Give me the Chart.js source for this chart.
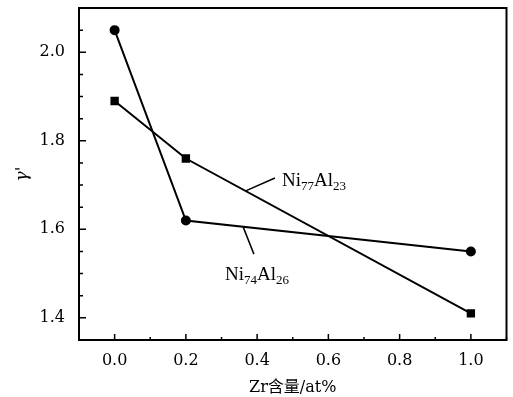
<!DOCTYPE html>
<html>
<head>
<meta charset="utf-8">
<script src="https://cdn.jsdelivr.net/npm/chart.js@4.4.1/dist/chart.umd.min.js"></script>
<style>
  html, body { margin: 0; padding: 0; background: #fff; }
  #wrap { width: 513px; height: 397px; }
</style>
</head>
<body>
<div id="wrap"><canvas id="myChart" width="513" height="397"></canvas></div>
<script>
// data
const zr = [0.0, 0.2, 1.0];
const ni74al26 = [2.05, 1.62, 1.55];   // circles
const ni77al23 = [1.89, 1.76, 1.41];   // squares
const xTicks = [0.0, 0.2, 0.4, 0.6, 0.8, 1.0];
const yTicks = [1.4, 1.6, 1.8, 2.0];
const xMinor = [-0.1, 0.1, 0.3, 0.5, 0.7, 0.9, 1.1];
const yMinor = [1.35, 1.45, 1.5, 1.55, 1.65, 1.7, 1.75, 1.85, 1.9, 1.95, 2.05, 2.1];

// label callouts, in data units
const callouts = [
  { a: "Ni", s1: "77", b: "Al", s2: "23", at: [0.47, 1.697], from: [0.368, 1.687], to: [0.45, 1.716] },
  { a: "Ni", s1: "74", b: "Al", s2: "26", at: [0.31, 1.486], from: [0.361, 1.605], to: [0.391, 1.544] }
];

const toPts = (ys) => zr.map((x, i) => ({ x: x, y: ys[i] }));

// frame, inward ticks and the callout labels
const framePlugin = {
  id: "frame",
  afterDraw(chart) {
    const c = chart.ctx;
    const a = chart.chartArea;
    const xs = chart.scales.x, ys = chart.scales.y;
    c.save();
    c.strokeStyle = "#000";
    c.lineWidth = 2;
    c.strokeRect(a.left, a.top, a.right - a.left, a.bottom - a.top);
    c.lineWidth = 1.5;
    c.beginPath();
    for (let v of yTicks) {
      let p = ys.getPixelForValue(v);
      c.moveTo(a.left, p); c.lineTo(a.left + 7, p);
    }
    for (let v of yMinor) {
      let p = ys.getPixelForValue(v);
      c.moveTo(a.left, p); c.lineTo(a.left + 4, p);
    }
    for (let v of xTicks) {
      let p = xs.getPixelForValue(v);
      c.moveTo(p, a.bottom); c.lineTo(p, a.bottom - 6);
    }
    for (let v of xMinor) {
      let p = xs.getPixelForValue(v);
      c.moveTo(p, a.bottom); c.lineTo(p, a.bottom - 3);
    }
    c.stroke();

    c.lineWidth = 1.5;
    c.fillStyle = "#000";
    c.textBaseline = "alphabetic";
    c.textAlign = "left";
    for (let t of callouts) {
      c.beginPath();
      c.moveTo(xs.getPixelForValue(t.from[0]), ys.getPixelForValue(t.from[1]));
      c.lineTo(xs.getPixelForValue(t.to[0]), ys.getPixelForValue(t.to[1]));
      c.stroke();
      let px = xs.getPixelForValue(t.at[0]);
      let py = ys.getPixelForValue(t.at[1]);
      const big = "19px 'Liberation Serif', serif";
      const small = "13px 'Liberation Serif', serif";
      c.font = big; c.fillText(t.a, px, py); px += c.measureText(t.a).width;
      c.font = small; c.fillText(t.s1, px, py + 4); px += c.measureText(t.s1).width;
      c.font = big; c.fillText(t.b, px, py); px += c.measureText(t.b).width;
      c.font = small; c.fillText(t.s2, px, py + 4);
    }
    c.restore();
  }
};

const ctx = document.getElementById("myChart");
const myChart = new Chart(ctx, {
  type: "scatter",
  data: {
    datasets: [
      {
        label: "Ni74Al26",
        data: toPts(ni74al26),
        showLine: true,
        borderColor: "#000",
        backgroundColor: "#000",
        borderWidth: 2,
        pointStyle: "circle",
        pointRadius: 4,
        tension: 0
      },
      {
        label: "Ni77Al23",
        data: toPts(ni77al23),
        showLine: true,
        borderColor: "#000",
        backgroundColor: "#000",
        borderWidth: 2,
        pointStyle: "rect",
        pointRadius: 4.5,
        tension: 0
      }
    ]
  },
  options: {
    responsive: false,
    animation: false,
    layout: { padding: { top: 8, right: 6, left: 0, bottom: 0 } },
    plugins: { legend: { display: false }, tooltip: { enabled: false } },
    scales: {
      x: {
        type: "linear",
        min: -0.1,
        max: 1.1,
        afterBuildTicks: (s) => { s.ticks = xTicks.map(v => ({ value: v })); },
        afterFit: (s) => { s.height = 57; s.paddingLeft = 0; s.paddingRight = 0; },
        grid: { display: false },
        border: { display: false },
        ticks: {
          color: "#000",
          padding: 3,
          font: { family: "'DejaVu Serif', serif", size: 16 },
          callback: (v) => v.toFixed(1)
        },
        title: {
          display: true,
          text: "Zr含量/at%",
          color: "#000",
          padding: { top: 4, bottom: 0 },
          font: { family: "'DejaVu Serif', 'Noto Sans CJK SC', serif", size: 16 }
        }
      },
      y: {
        min: 1.35,
        max: 2.1,
        afterBuildTicks: (s) => { s.ticks = yTicks.map(v => ({ value: v })); },
        afterFit: (s) => { s.width = 79; s.paddingTop = 0; s.paddingBottom = 0; },
        grid: { display: false },
        border: { display: false },
        ticks: {
          color: "#000",
          padding: 6,
          font: { family: "'DejaVu Serif', serif", size: 16 },
          callback: (v) => v.toFixed(1)
        },
        title: {
          display: true,
          text: "γ'",
          color: "#000",
          padding: { top: 12, bottom: 0 },
          font: { family: "'DejaVu Serif', serif", size: 17, style: "italic" }
        }
      }
    }
  },
  plugins: [framePlugin]
});
</script>
</body>
</html>
